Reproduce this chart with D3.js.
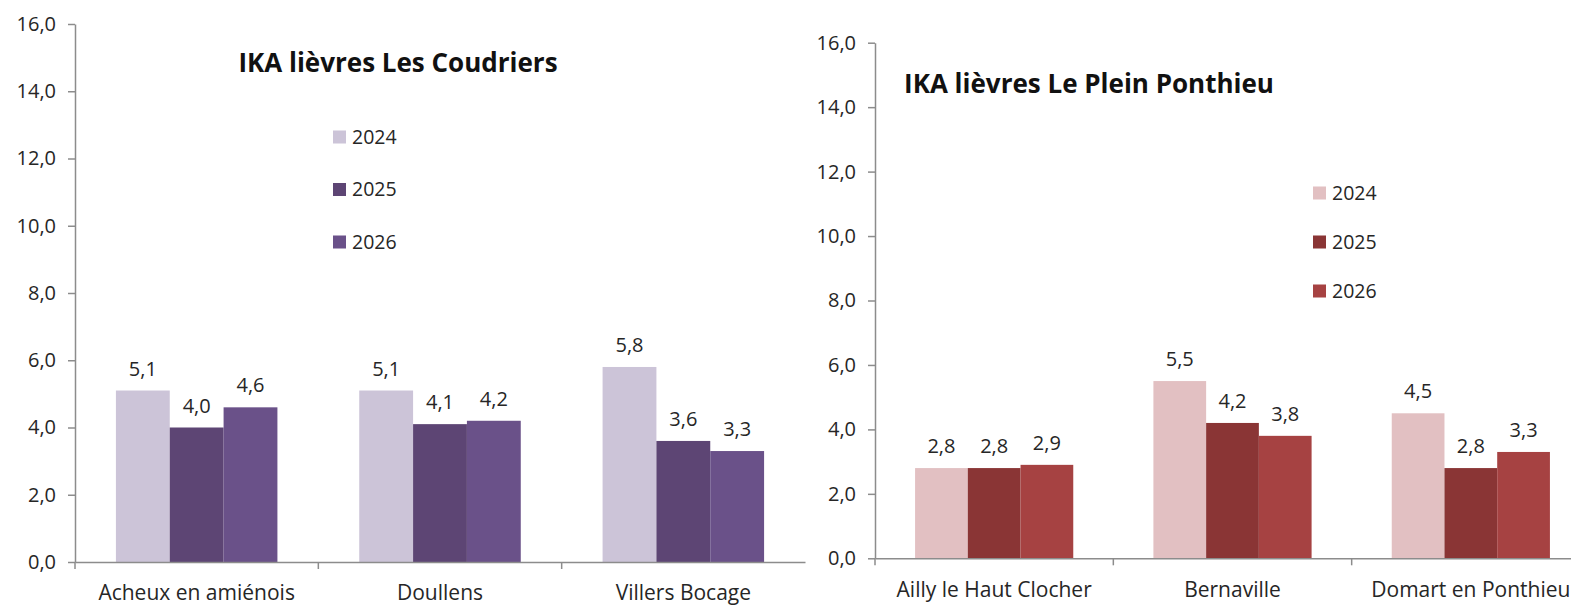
<!DOCTYPE html>
<html>
<head>
<meta charset="utf-8">
<script src="https://cdn.jsdelivr.net/npm/d3@7"></script>
<style>
  body { margin: 0; background: #fff; }
  svg { display: block; font-family: "Open Sans", "Noto Sans", sans-serif; }
</style>
</head>
<body>
<svg id="chart" width="1571" height="607"></svg>
<script>
const years = ["2024", "2025", "2026"];
const yTicks = [0, 2, 4, 6, 8, 10, 12, 14, 16];

const coudriersCategories = ["Acheux en amiénois", "Doullens", "Villers Bocage"];
const coudriers2024 = [5.1, 5.1, 5.8];
const coudriers2025 = [4.0, 4.1, 3.6];
const coudriers2026 = [4.6, 4.2, 3.3];

const ponthieuCategories = ["Ailly le Haut Clocher", "Bernaville", "Domart en Ponthieu"];
const ponthieu2024 = [2.8, 5.5, 4.5];
const ponthieu2025 = [2.8, 4.2, 2.8];
const ponthieu2026 = [2.9, 3.8, 3.3];

const svg = d3.select("#chart");
const fmt = v => d3.format(".1f")(v).replace(".", ",");

function drawChart(opts) {
  const series = [opts.s2024, opts.s2025, opts.s2026];
  const data = opts.categories.map((c, i) => ({
    cat: c,
    vals: years.map((y, j) => ({ year: y, value: series[j][i] }))
  }));

  const x0 = d3.scaleBand()
    .domain(opts.categories)
    .range([opts.left, opts.right])
    .padding(0);

  const x1 = d3.scaleBand()
    .domain(years)
    .range([0, x0.bandwidth()])
    .paddingInner(0)
    .paddingOuter(0.76);

  const y = d3.scaleLinear()
    .domain([0, 16])
    .range([opts.bottom, opts.top]);

  const color = d3.scaleOrdinal().domain(years).range(opts.colors);

  const g = svg.append("g");

  // y axis
  const yAxis = g.append("g")
    .attr("transform", `translate(${opts.left},0)`)
    .call(d3.axisLeft(y).tickValues(yTicks).tickFormat(fmt).tickSize(7).tickSizeOuter(0));
  yAxis.selectAll("path, line").attr("stroke", "#8c8c8c").attr("stroke-width", 1.5);
  yAxis.selectAll("text")
    .attr("font-size", 20).attr("fill", "#262626").attr("x", -19)
    .attr("font-family", "Open Sans");

  // bars
  const groups = g.selectAll(".grp")
    .data(data)
    .enter().append("g")
    .attr("transform", d => `translate(${x0(d.cat)},0)`);

  groups.selectAll("rect")
    .data(d => d.vals)
    .enter().append("rect")
    .attr("x", d => x1(d.year))
    .attr("y", d => y(d.value))
    .attr("width", x1.bandwidth())
    .attr("height", d => y(0) - y(d.value))
    .attr("fill", d => color(d.year));

  groups.selectAll(".lbl")
    .data(d => d.vals)
    .enter().append("text")
    .attr("x", d => x1(d.year) + x1.bandwidth() / 2)
    .attr("y", d => y(d.value) - 15)
    .attr("text-anchor", "middle")
    .attr("font-size", 20)
    .attr("fill", "#262626")
    .text(d => fmt(d.value));

  // x axis
  const xAxis = g.append("g")
    .attr("transform", `translate(0,${opts.bottom})`)
    .call(d3.axisBottom(x0).tickSize(0).tickFormat(""));
  xAxis.select(".domain").attr("stroke", "#8c8c8c").attr("stroke-width", 1.5);
  xAxis.selectAll(".tick").remove();

  // category separators
  g.selectAll(".sep")
    .data(opts.categories)
    .enter().append("line")
    .attr("x1", d => x0(d)).attr("x2", d => x0(d))
    .attr("y1", opts.bottom).attr("y2", opts.bottom + 7)
    .attr("stroke", "#8c8c8c").attr("stroke-width", 1.5);

  g.selectAll(".cat")
    .data(opts.categories)
    .enter().append("text")
    .attr("x", d => x0(d) + x0.bandwidth() / 2)
    .attr("y", opts.catY)
    .attr("text-anchor", "middle")
    .attr("font-size", 21)
    .attr("fill", "#262626")
    .text(d => d);

  // title
  g.append("text")
    .attr("x", opts.titleX).attr("y", opts.titleY)
    .attr("text-anchor", "middle")
    .attr("font-size", 26).attr("font-weight", "bold")
    .attr("fill", "#111")
    .text(opts.title);

  // legend
  const leg = g.selectAll(".leg")
    .data(years)
    .enter().append("g")
    .attr("transform", (d, i) => `translate(${opts.legX},${opts.legY + i * opts.legStep})`);
  leg.append("rect")
    .attr("x", 0).attr("y", -6.5)
    .attr("width", 13).attr("height", 13)
    .attr("fill", d => color(d));
  leg.append("text")
    .attr("x", 19).attr("y", 0)
    .attr("dy", "0.35em")
    .attr("font-size", 19.5)
    .attr("fill", "#262626")
    .text(d => d);
}

drawChart({
  categories: coudriersCategories,
  s2024: coudriers2024, s2025: coudriers2025, s2026: coudriers2026,
  colors: ["#ccc4d8", "#5d4574", "#6a5189"],
  left: 75, right: 805, top: 24, bottom: 562,
  catY: 600,
  title: "IKA lièvres Les Coudriers", titleX: 398, titleY: 72,
  legX: 333, legY: 137, legStep: 52.5
});

drawChart({
  categories: ponthieuCategories,
  s2024: ponthieu2024, s2025: ponthieu2025, s2026: ponthieu2026,
  colors: ["#e2c0c2", "#8a3535", "#a64242"],
  left: 875, right: 1590, top: 42.7, bottom: 558.3,
  catY: 597,
  title: "IKA lièvres Le Plein Ponthieu", titleX: 1089, titleY: 93,
  legX: 1313, legY: 193, legStep: 49
});
</script>
</body>
</html>
